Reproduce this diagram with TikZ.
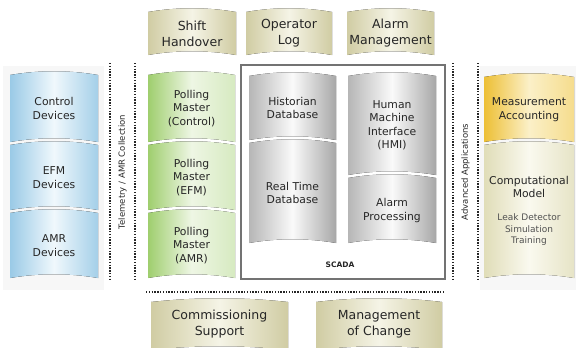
\documentclass[tikz,border=0pt]{standalone}
\usepackage{fontspec}
\setmainfont{DejaVu Sans}
\usepackage{tikz}

% colours of the panels
\definecolor{bluedark}{HTML}{9ACAE6}
\definecolor{bluelight}{HTML}{F0F8FC}
\definecolor{greendark}{HTML}{9FCE6E}
\definecolor{greenlight}{HTML}{EEF6E4}
\definecolor{graydark}{HTML}{B6B6B6}
\definecolor{graylight}{HTML}{FAFAFA}
\definecolor{khakidark}{HTML}{D0CCA3}
\definecolor{khakilight}{HTML}{F5F4E6}
\definecolor{golddark}{HTML}{EDBF34}
\definecolor{goldlight}{HTML}{FBF0C8}
\definecolor{creamdark}{HTML}{E0DDB8}
\definecolor{creamlight}{HTML}{FAF9EF}
\definecolor{txt}{HTML}{262626}

% curved panel: [shading] {name} {x1} {y1} {x2} {y2} {text}
\newcommand{\wavebox}[7][]{%
  \fill[#1] (#3,#4) .. controls ({#3+(#5-#3)/3},{#4-5}) and ({#3+2*(#5-#3)/3},{#4-5}) .. (#5,#4)
    -- (#5,#6) .. controls ({#3+2*(#5-#3)/3},{#6-5}) and ({#3+(#5-#3)/3},{#6-5}) .. (#3,#6) -- cycle;
  \node[boxtext] (#2) at ({(#3+#5)/2},{(#4+#6)/2}) {#7};}

\begin{document}
\begin{tikzpicture}[x=1pt,y=-1pt]
\tikzset{ inner sep=0pt, outer sep=0pt,
  boxtext/.style={align=center, text=txt, font=\fontsize{10.8}{13.5}\selectfont},
  bigtext/.style={align=center, text=txt, font=\fontsize{12.5}{16}\selectfont},
  blueshade/.style={left color=bluedark, right color=bluedark!90, middle color=bluelight},
  greenshade/.style={left color=greendark, right color=greenlight!70!greendark, middle color=greenlight},
  grayshade/.style={left color=graydark, right color=graydark!92!black, middle color=graylight},
  khakishade/.style={left color=khakidark, right color=khakidark, middle color=khakilight},
  goldshade/.style={left color=golddark, right color=goldlight!60!golddark, middle color=goldlight},
  creamshade/.style={left color=creamdark, right color=creamdark!80, middle color=creamlight},
  sepline/.style={black!85, line width=1.3pt, dash pattern=on 1.3pt off 1.5pt},
}

\useasboundingbox (0,0) rectangle (576,348);

%\draw [lightgray, dashed](0,0) grid[step=50] (576,348);

% faint backdrops
\fill[black!3] (3,66) rectangle (104,290);
\fill[black!3] (480,66) rectangle (576,290);

% top row
\wavebox[khakishade]{shift}{148}{12}{236}{55}{}
\wavebox[khakishade]{oplog}{246}{12}{332}{55}{}
\wavebox[khakishade]{alarmmgt}{347}{12}{434}{55}{}
\node[bigtext] (shifttxt) at (shift) {Shift\\Handover};
\node[bigtext] (oplogtxt) at (oplog) {Operator\\Log};
\node[bigtext] (alarmmgttxt) at (alarmmgt) {Alarm\\Management};

% field devices
\wavebox[blueshade]{ctrldev}{10}{75}{98}{142}{Control\\Devices}
\wavebox[blueshade]{efmdev}{10}{145}{98}{210}{EFM\\Devices}
\wavebox[blueshade]{amrdev}{10}{213}{98}{278}{AMR\\Devices}

% polling masters
\wavebox[greenshade]{pmctrl}{148}{75}{235}{142}{Polling\\Master\\(Control)}
\wavebox[greenshade]{pmefm}{148}{145}{235}{210}{Polling\\Master\\(EFM)}
\wavebox[greenshade]{pmamr}{148}{213}{235}{278}{Polling\\Master\\(AMR)}

% SCADA
\node[draw=black!55, line width=1.2pt, minimum width=204pt, minimum height=214pt] (scada) at (343,172) {};
\wavebox[grayshade]{hist}{249}{76}{336}{140}{Historian\\Database}
\wavebox[grayshade]{rtdb}{249}{143}{336}{243}{Real Time\\Database}
\wavebox[grayshade]{hmi}{348}{76}{436}{175}{Human\\Machine\\Interface\\(HMI)}
\wavebox[grayshade]{alarmproc}{348}{178}{436}{243}{Alarm\\Processing}
\node[text=txt, font=\fontsize{7.5}{9}\selectfont\bfseries] (scadalbl) at (340,265) {SCADA};

% advanced applications
\wavebox[goldshade]{meas}{484}{77}{574}{142}{Measurement\\Accounting}
\wavebox[creamshade]{comp}{484}{145}{574}{278}{}
\node[boxtext] (compmodel) at (529,187) {Computational\\Model};
\node[align=center, text=txt!80, font=\fontsize{9}{11.5}\selectfont] (leak) at (529,230) {Leak Detector\\Simulation\\Training};

% separators
\coordinate (tl1) at (110,63); \coordinate (tl2) at (110,281);
\coordinate (tr1) at (135,63); \coordinate (tr2) at (135,281);
\coordinate (al1) at (453,63); \coordinate (al2) at (453,281);
\coordinate (ar1) at (478,63); \coordinate (ar2) at (478,281);
\coordinate (hl) at (146,292); \coordinate (hr) at (444,292);
\draw[sepline] (tl1) -- (tl2);
\draw[sepline] (tr1) -- (tr2);
\draw[sepline] (al1) -- (al2);
\draw[sepline] (ar1) -- (ar2);
\draw[sepline] (hl) -- (hr);
\node[rotate=90, text=txt, font=\fontsize{8.5}{10}\selectfont] (telem) at (122.5,172) {Telemetry / AMR Collection};
\node[rotate=90, text=txt, font=\fontsize{8.5}{10}\selectfont] (advapp) at (465.5,172) {Advanced Applications};

% bottom row
\wavebox[khakishade]{commiss}{151}{302}{288}{350}{}
\wavebox[khakishade]{moc}{316}{302}{442}{350}{}
\node[bigtext] (commisstxt) at ([yshift=2pt]commiss) {Commissioning\\Support};
\node[bigtext] (moctxt) at ([yshift=2pt]moc) {Management\\of Change};

\end{tikzpicture}
\end{document}
